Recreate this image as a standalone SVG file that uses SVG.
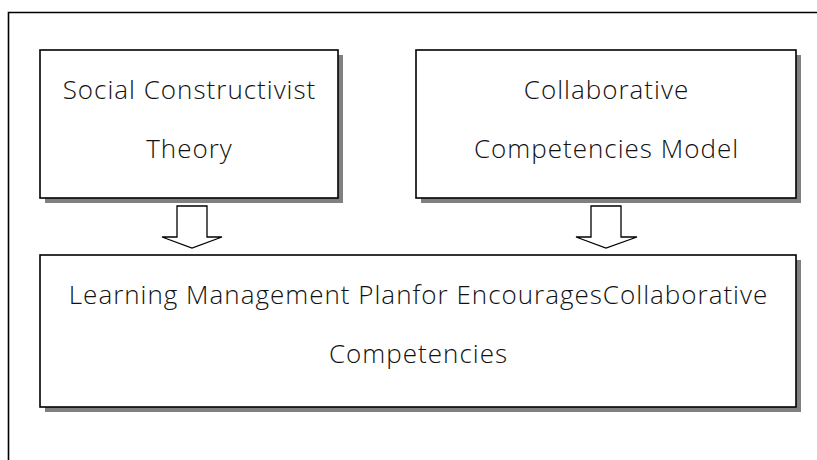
<svg xmlns="http://www.w3.org/2000/svg" width="817" height="460" viewBox="0 0 817 460">
<style>
.shadow{fill:#808080;stroke:none}
.box{fill:#fff;stroke:#000;stroke-width:1.6}
.arrow{fill:#fff;stroke:#000;stroke-width:1.3;stroke-linejoin:miter}
text{font-family:"Open Sans","DejaVu Sans",sans-serif;font-weight:300;font-size:26px;letter-spacing:1px;fill:#111;text-anchor:middle}
</style>
<rect x="0" y="0" width="817" height="460" fill="#fff"/>
<path d="M8.5,470 V12.5 H830" fill="none" stroke="#000" stroke-width="1.6"/>
<g id="node-social">
<rect class="shadow" x="45" y="55" width="298" height="148"/>
<rect class="box" x="40" y="50" width="298" height="148"/>
<text x="189.5" y="99">Social Constructivist</text>
<text x="189.5" y="158">Theory</text>
</g>
<g id="node-collab">
<rect class="shadow" x="421" y="55" width="380" height="148"/>
<rect class="box" x="416" y="50" width="380" height="148"/>
<text x="606.5" y="99">Collaborative</text>
<text x="606.5" y="158">Competencies Model</text>
</g>
<g id="node-plan">
<rect class="shadow" x="45" y="260" width="756" height="152"/>
<rect class="box" x="40" y="255" width="756" height="152"/>
<text x="418.5" y="304">Learning Management Planfor EncouragesCollaborative</text>
<text x="418.5" y="363">Competencies</text>
</g>
<g id="connectors">
<path class="arrow" d="M177,206 H207 V237 H222 L192,248 L162,237 H177 Z"/>
<path class="arrow" d="M591,206 H621 V237 H637 L606,248 L576,237 H591 Z"/>
</g>
</svg>
